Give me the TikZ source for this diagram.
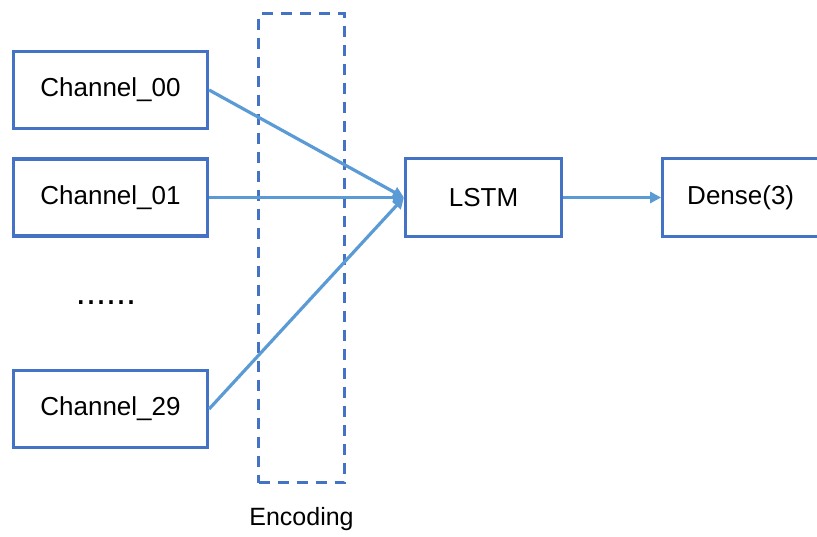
\documentclass[tikz,border=0pt]{standalone}
\usepackage{fontspec}
\setmainfont{Liberation Sans}
\usetikzlibrary{positioning,arrows.meta}
\definecolor{boxblue}{HTML}{4472C4}
\definecolor{linkblue}{HTML}{5B9BD5}
\tikzset{
  chan/.style={draw=boxblue, line width=3.2pt, minimum width=194pt, minimum height=77pt,
               font=\fontsize{26}{30}\selectfont, inner sep=0pt},
  layer/.style={draw=boxblue, line width=3.2pt, minimum width=156pt, minimum height=78pt,
                font=\fontsize{26}{30}\selectfont, inner sep=0pt},
  link/.style={draw=linkblue, line width=3.2pt, -{Triangle[length=11pt,width=11pt]}},
}

\begin{document}
\begin{tikzpicture}[x=1pt, y=-1pt,
  encbox/.style={draw=boxblue, line width=3.2pt, dash pattern=on 11pt off 8pt,
                 minimum width=86pt, minimum height=469pt, inner sep=0pt},
  node distance=95pt]
\useasboundingbox (0,0) rectangle (817,536);

% ---- input channels ----
\node[chan] (ch00) at (110.5,90) {Channel\_00};
\node[chan] (ch01) at (110.5,197.5) {Channel\_01};
\node[font=\fontsize{36}{40}\selectfont, anchor=base] (dots) at (106,304) {......};
\node[chan] (ch29) at (110.5,409) {Channel\_29};

% ---- encoding ----
\node[encbox] (enc) at (301.5,248) {};
\node[font=\fontsize{25}{30}\selectfont, below=20pt of enc] (enclab) {Encoding};

% ---- model ----
\node[layer] (lstm) at (483.5,197.5) {LSTM};
\node[layer, right=98pt of lstm] (dense) {Dense(3)};

\draw[link] (ch00.east) -- (lstm.west);
\draw[link] (ch01.east) -- (lstm.west);
\draw[link] (ch29.east) -- (lstm.west);
\draw[link] (lstm.east) -- (dense.west);

\end{tikzpicture}
\end{document}
